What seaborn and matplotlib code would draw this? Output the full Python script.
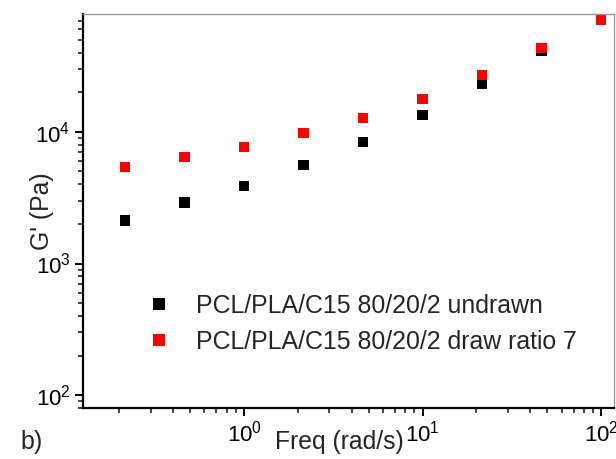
import numpy as np
import pandas as pd
import matplotlib
matplotlib.use("Agg")
import matplotlib.pyplot as plt
from matplotlib.ticker import LogLocator, NullFormatter
import seaborn as sns

freq = [0.215, 0.464, 1.0, 2.15, 4.64, 10.0, 21.5, 46.4, 100.0]
g_undrawn = [2120, 2900, 3900, 5620, 8400, 13450, 23100, 41100, 73100]
g_drawn = [5430, 6480, 7690, 9830, 12760, 17780, 27040, 43250, 70500]
series_labels = ["PCL/PLA/C15 80/20/2 undrawn", "PCL/PLA/C15 80/20/2 draw ratio 7"]
series_colors = ["#000000", "#ff0000"]

df = pd.DataFrame({
    "freq": freq + freq,
    "G": g_undrawn + g_drawn,
    "sample": [series_labels[0]] * len(freq) + [series_labels[1]] * len(freq),
})

sns.set_style("ticks")
plt.rcParams["font.family"] = ["Liberation Sans", "DejaVu Sans"]
plt.rcParams["mathtext.fontset"] = "custom"
plt.rcParams["mathtext.rm"] = "Liberation Sans"
plt.rcParams["mathtext.it"] = "Liberation Sans:italic"

fig = plt.figure(figsize=(6.16, 4.59), dpi=100)
ax = fig.add_axes([83 / 616, (459 - 408) / 459, (614 - 83) / 616, (408 - 14) / 459])

sns.scatterplot(data=df, x="freq", y="G", hue="sample",
                palette=dict(zip(series_labels, series_colors)),
                marker="s", s=55, linewidth=0, ax=ax, legend=True)

ax.set_xscale("log")
ax.set_yscale("log")
ax.set_xlim(0.1253, 118)
ax.set_ylim(80, 78500)

ax.xaxis.set_major_locator(LogLocator(base=10, numticks=10))
ax.xaxis.set_minor_locator(LogLocator(base=10, subs=np.arange(2, 10), numticks=20))
ax.yaxis.set_major_locator(LogLocator(base=10, numticks=10))
ax.yaxis.set_minor_locator(LogLocator(base=10, subs=np.arange(2, 10), numticks=20))
ax.xaxis.set_minor_formatter(NullFormatter())
ax.yaxis.set_minor_formatter(NullFormatter())

for side in ["left", "bottom"]:
    ax.spines[side].set_linewidth(1.6)
    ax.spines[side].set_color("black")
for side in ["top", "right"]:
    ax.spines[side].set_linewidth(1.0)
    ax.spines[side].set_color("#999999")

ax.tick_params(which="major", direction="out", length=6, width=1.4, labelsize=16,
               colors="black", top=False, right=False, pad=3)
ax.tick_params(which="minor", direction="out", length=3.5, width=1.2,
               top=False, right=False)
ax.tick_params(axis="x", which="major", pad=3)

ax.set_xlabel("Freq (rad/s)", fontsize=17.8)
ax.set_ylabel("G' (Pa)", fontsize=17.8)
ax.xaxis.set_label_coords(0.482, -0.055)
ax.yaxis.set_label_coords(-0.055, 0.5)

sns.move_legend(ax, "upper left", bbox_to_anchor=(0.12, 0.29), title=None,
                frameon=False, fontsize=17.9, handlelength=1.0, handletextpad=1.0,
                labelspacing=0.5, borderaxespad=0, borderpad=0, markerscale=1.1)

fig.text(20 / 616, 1 - 442 / 459, "b)", fontsize=18, va="center", ha="left")

fig.savefig("out.png", dpi=100)
